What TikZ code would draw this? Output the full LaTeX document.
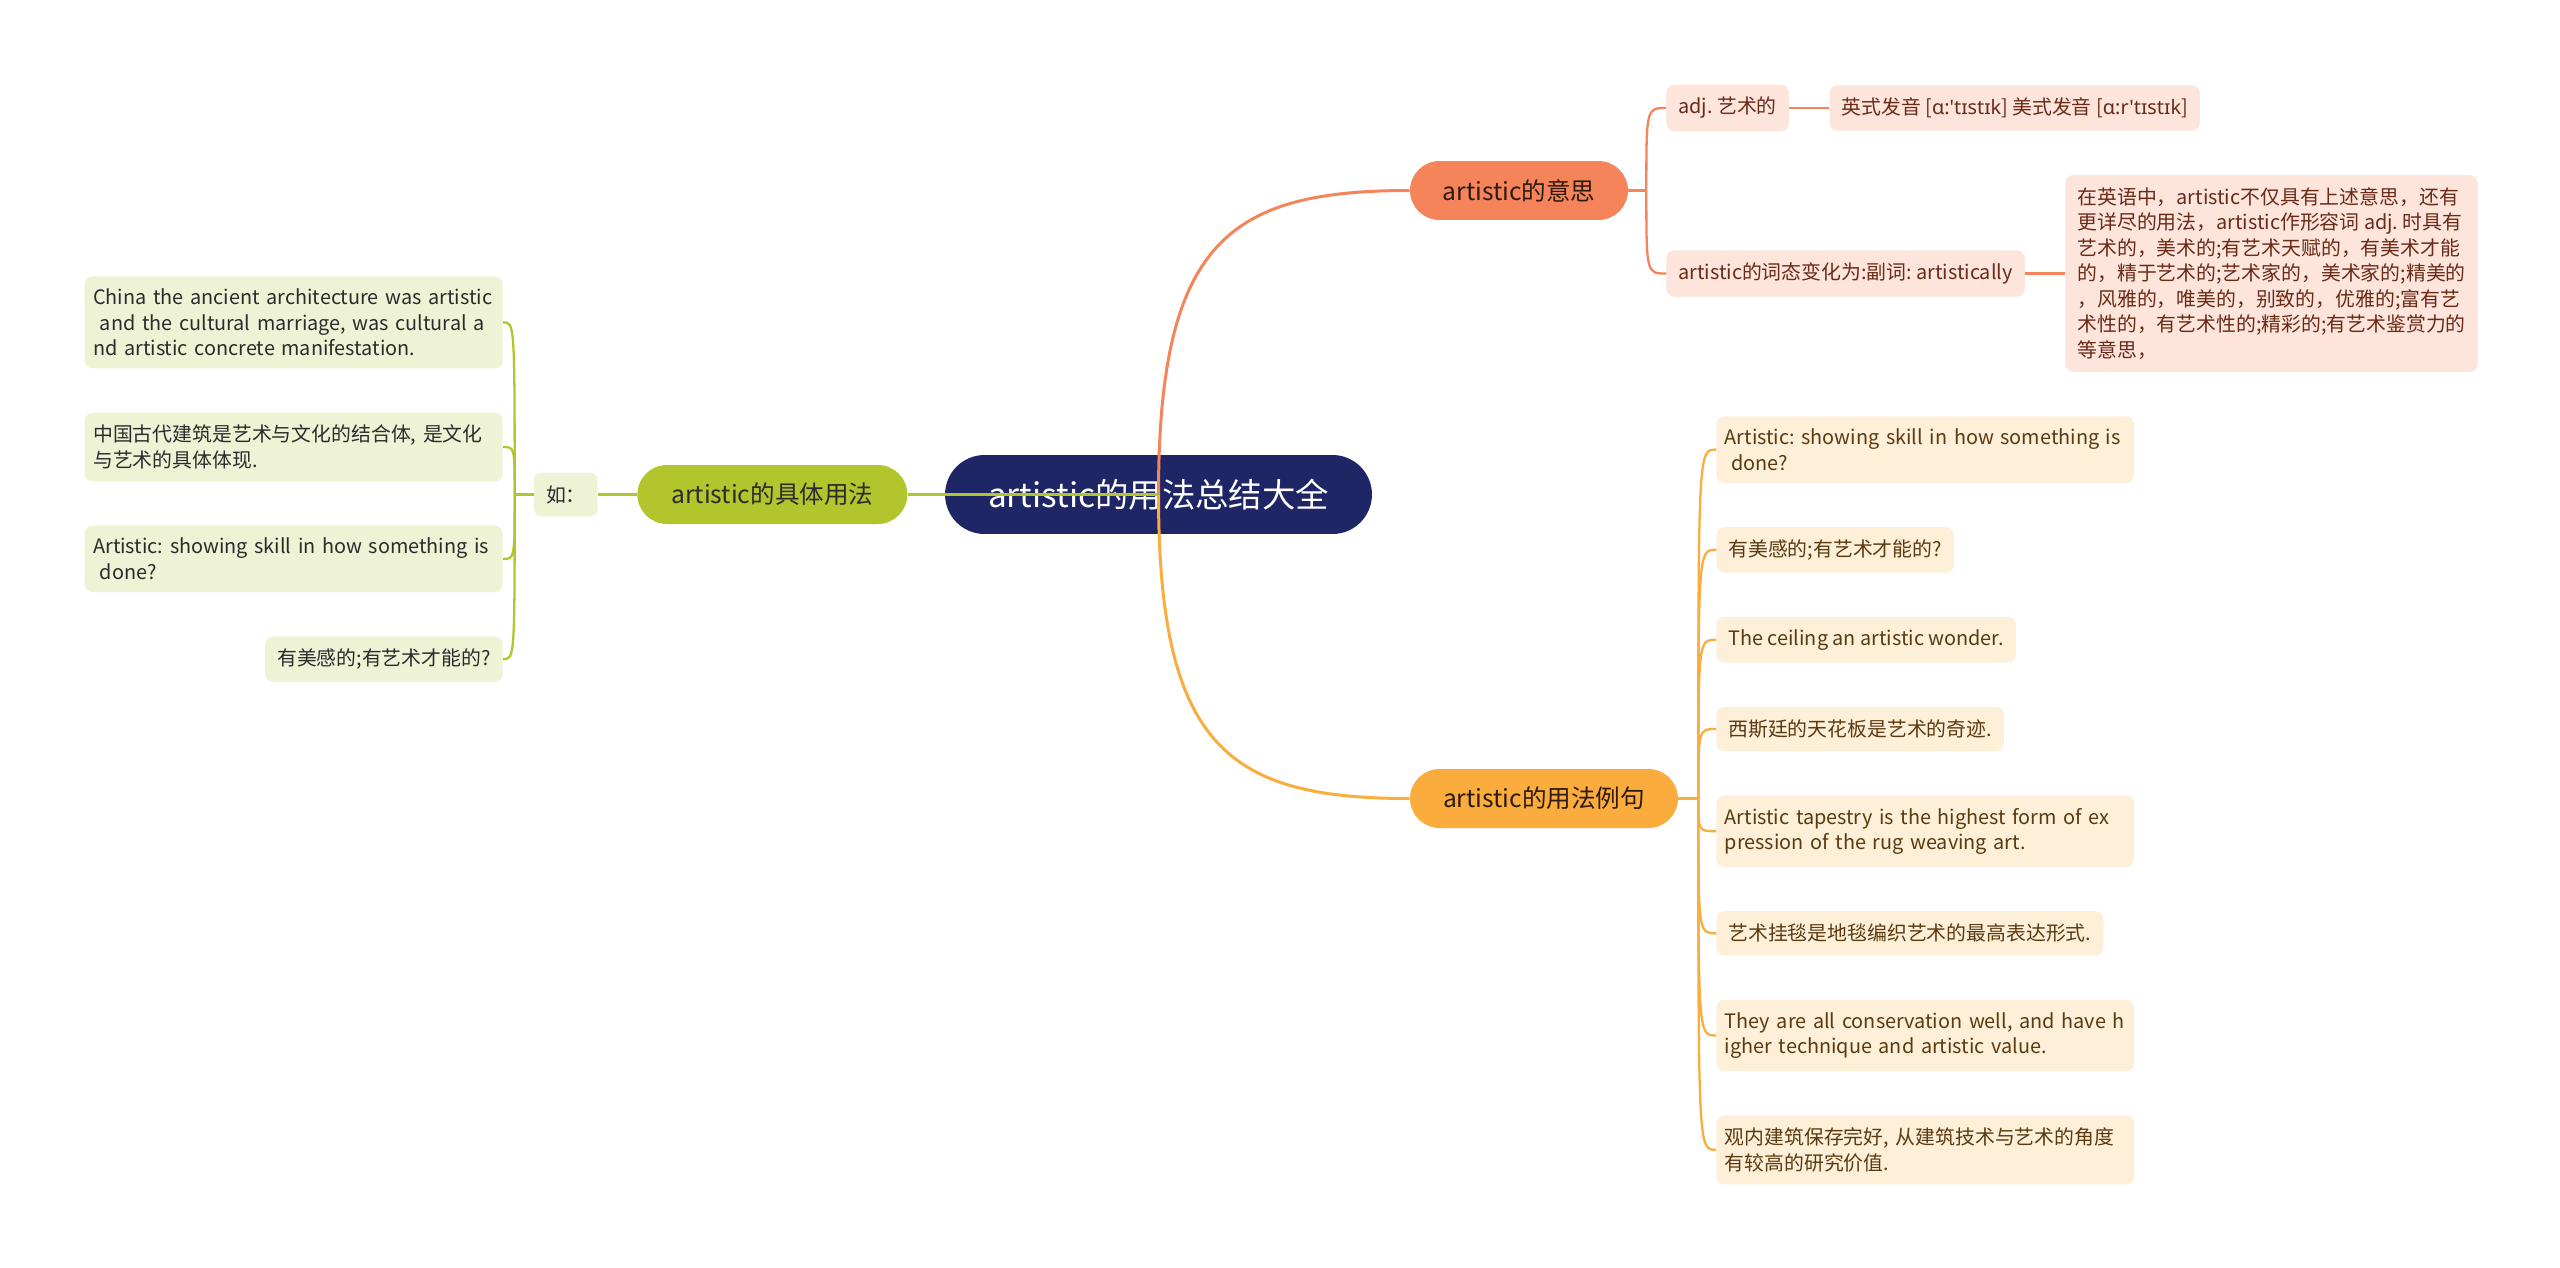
\documentclass[tikz,border=0pt]{standalone}
\usepackage{fontspec}
\setmainfont{Noto Sans CJK SC}
\newfontfamily\ipafont{Noto Sans}
\usetikzlibrary{positioning, calc}
\frenchspacing
\definecolor{artNavy}{HTML}{1F2666}
\definecolor{artCoral}{HTML}{F5845B}
\definecolor{artAmber}{HTML}{FAAC3C}
\definecolor{artLime}{HTML}{B3C52D}
\definecolor{artRose}{HTML}{FDE5DC}
\definecolor{artCream}{HTML}{FEEFD9}
\definecolor{artMint}{HTML}{EFF3D6}
\definecolor{artRoseInk}{HTML}{6A2A18}
\definecolor{artCreamInk}{HTML}{5A3A10}
\definecolor{artMintInk}{HTML}{2B2B2B}
\definecolor{artTopicInk}{HTML}{2E1A0E}

\begin{document}
\begin{tikzpicture}[x=0.02cm, y=-0.02cm,
    node distance=0.87cm,
    rootbox/.style={rectangle, rounded corners=0.79cm, fill=artNavy, text=white,
                    font=\fontsize{19}{23}\selectfont, minimum width=8.54cm, minimum height=1.58cm},
    topic/.style={rectangle, rounded corners=0.59cm, minimum height=1.18cm, text=artTopicInk,
                  font=\fontsize{14}{17}\selectfont},
    leaf/.style={rectangle, rounded corners=0.16cm, align=left, minimum height=0.89cm,
                 font=\fontsize{11.3}{14.5}\selectfont, inner xsep=0.24cm, inner ysep=0.25cm},
    wide/.style={text width=8.02cm, inner xsep=0.17cm},
    roseleaf/.style={leaf, fill=artRose, text=artRoseInk},
    creamleaf/.style={leaf, fill=artCream, text=artCreamInk},
    mintleaf/.style={leaf, fill=artMint, text=artMintInk},
    link/.style={line width=1.7pt},
    twig/.style={line width=1.3pt},
  ]
    \fill[white] (0,0) rectangle (2560,1268);
    \useasboundingbox (0,0) rectangle (2560,1268);

    \node[rootbox] (root) at (1158.5,494.5) {artistic的用法总结大全};
    \node[topic, fill=artCoral, minimum width=4.36cm] (mean) at (1519,190.5) {artistic的意思};
    \node[topic, fill=artAmber, minimum width=5.36cm] (usage) at (1544,798.5) {artistic的用法例句};
    \node[topic, fill=artLime, text=artMintInk, minimum width=5.4cm, left=0.74cm of root] (how) {artistic的具体用法};
    \node[mintleaf, minimum width=1.14cm, minimum height=0.88cm, left=0.78cm of how] (eg) {如：};

    \node[mintleaf, wide, anchor=north east] (l1) at (503,276) {China the ancient architecture was artistic\\\ and the cultural marriage, was cultural a\\nd artistic concrete manifestation.};
    \node[mintleaf, wide, below=of l1.south east, anchor=north east] (l2) {中国古代建筑是艺术与文化的结合体, 是文化\\与艺术的具体体现.};
    \node[mintleaf, wide, below=of l2.south east, anchor=north east] (l3) {Artistic: showing skill in how something is\\\ done?};
    \node[mintleaf, below=of l3.south east, anchor=north east] (l4) {有美感的;有艺术才能的?};

    \node[roseleaf, anchor=west] (adj) at (1666,108) {adj. 艺术的};
    \node[roseleaf, right=0.8cm of adj] (say) {英式发音 [{\ipafont ɑ:'tɪstɪk}] 美式发音 [{\ipafont ɑ:r'tɪstɪk}]};
    \node[roseleaf, anchor=west] (form) at (1666,273.5) {artistic的词态变化为:副词: artistically};
    \node[roseleaf, right=0.8cm of form] (note) {在英语中，artistic不仅具有上述意思，还有\\更详尽的用法，artistic作形容词 adj. 时具有\\艺术的，美术的;有艺术天赋的，有美术才能\\的，精于艺术的;艺术家的，美术家的;精美的\\，风雅的，唯美的，别致的，优雅的;富有艺\\术性的，有艺术性的;精彩的;有艺术鉴赏力的\\等意思，};

    \node[creamleaf, wide, anchor=north west] (r1) at (1716,416) {Artistic: showing skill in how something is\\\ done?};
    \node[creamleaf, below=of r1.south west, anchor=north west] (r2) {有美感的;有艺术才能的?};
    \node[creamleaf, below=of r2.south west, anchor=north west] (r3) {The ceiling an artistic wonder.};
    \node[creamleaf, below=of r3.south west, anchor=north west] (r4) {西斯廷的天花板是艺术的奇迹.};
    \node[creamleaf, wide, below=of r4.south west, anchor=north west] (r5) {Artistic tapestry is the highest form of ex\\pression of the rug weaving art.};
    \node[creamleaf, below=of r5.south west, anchor=north west] (r6) {艺术挂毯是地毯编织艺术的最高表达形式.};
    \node[creamleaf, wide, below=of r6.south west, anchor=north west] (r7) {They are all conservation well, and have h\\igher technique and artistic value.};
    \node[creamleaf, wide, below=of r7.south west, anchor=north west] (r8) {观内建筑保存完好, 从建筑技术与艺术的角度\\有较高的研究价值.};

    \coordinate (fl) at ([xshift=-0.38cm]eg.west);
    \coordinate (fm) at ([xshift=0.36cm]mean.east);
    \coordinate (fu) at ([xshift=0.4cm]usage.east);

    \draw[link, artCoral] (root.center) .. controls +(0,-254) and +(-180,0) .. (mean.west);
    \draw[link, artAmber] (root.center) .. controls +(0,254) and +(-180,0) .. (usage.west);
    \draw[link, artLime] (root.center) -- (how.east);
    \draw[link, artLime] (how.west) -- (eg.east);

    \draw[twig, artLime] (eg.west) -- (fl);
    \draw[twig, artLime] (fl) .. controls (fl |- l1.east) .. (l1.east);
    \draw[twig, artLime] (fl) .. controls (fl |- l2.east) .. (l2.east);
    \draw[twig, artLime] (fl) .. controls (fl |- l3.east) .. (l3.east);
    \draw[twig, artLime] (fl) .. controls (fl |- l4.east) .. (l4.east);

    \draw[twig, artCoral] (mean.east) -- (fm);
    \draw[twig, artCoral] (fm) .. controls (fm |- adj.west) .. (adj.west);
    \draw[twig, artCoral] (fm) .. controls (fm |- form.west) .. (form.west);
    \draw[twig, artCoral] (adj.east) -- (say.west);
    \draw[twig, artCoral] (form.east) -- (note.west);

    \draw[twig, artAmber] (usage.east) -- (fu);
    \draw[twig, artAmber] (fu) .. controls (fu |- r1.west) .. (r1.west);
    \draw[twig, artAmber] (fu) .. controls (fu |- r2.west) .. (r2.west);
    \draw[twig, artAmber] (fu) .. controls (fu |- r3.west) .. (r3.west);
    \draw[twig, artAmber] (fu) .. controls (fu |- r4.west) .. (r4.west);
    \draw[twig, artAmber] (fu) .. controls (fu |- r5.west) .. (r5.west);
    \draw[twig, artAmber] (fu) .. controls (fu |- r6.west) .. (r6.west);
    \draw[twig, artAmber] (fu) .. controls (fu |- r7.west) .. (r7.west);
    \draw[twig, artAmber] (fu) .. controls (fu |- r8.west) .. (r8.west);
\end{tikzpicture}
\end{document}
